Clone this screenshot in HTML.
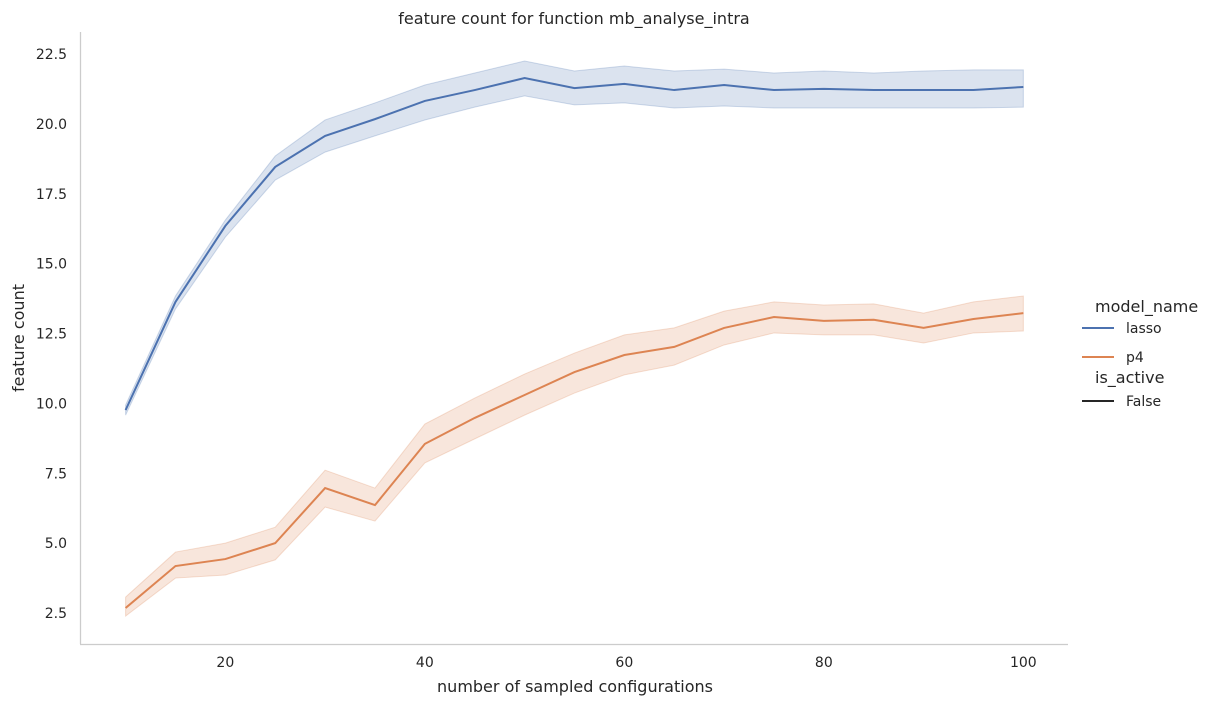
<!DOCTYPE html>
<html><head><meta charset="utf-8"><style>
body{margin:0;background:#fff;}
svg{display:block;font-family:"DejaVu Sans","Liberation Sans",sans-serif;fill:#262626;}
</style></head><body>
<svg id="chart" width="1215" height="706" viewBox="0 0 1215 706">
<text x="574" y="24" text-anchor="middle" font-size="16">feature count for function mb_analyse_intra</text>
<line x1="80.5" y1="32" x2="80.5" y2="644" stroke="#ccc" stroke-width="1.3"/>
<line x1="80" y1="644.5" x2="1068" y2="644.5" stroke="#ccc" stroke-width="1.3"/>
<g id="xticks"></g><g id="yticks"></g><g id="marks"></g>
<text x="575" y="692" text-anchor="middle" font-size="16">number of sampled configurations</text>
<text transform="translate(24,338) rotate(-90)" text-anchor="middle" font-size="16">feature count</text>
<g font-size="14">
<text x="1095" y="312" font-size="16">model_name</text>
<line x1="1082" y1="328" x2="1114" y2="328" stroke="#4c72b0" stroke-width="2"/>
<text x="1126" y="333">lasso</text>
<line x1="1082" y1="357" x2="1114" y2="357" stroke="#dd8452" stroke-width="2"/>
<text x="1126" y="362">p4</text>
<text x="1095" y="383" font-size="16">is_active</text>
<line x1="1082" y1="401" x2="1114" y2="401" stroke="#262626" stroke-width="2"/>
<text x="1126" y="406">False</text>
</g>
</svg>
<script>
const xs=[10,15,20,25,30,35,40,45,50,55,60,65,70,75,80,85,90,95,100];
const lassoMean=[9.76,13.63,16.35,18.46,19.57,20.17,20.82,21.21,21.64,21.28,21.43,21.21,21.39,21.21,21.25,21.21,21.21,21.21,21.32];
const lassoHi=[9.94,13.84,16.56,18.85,20.14,20.75,21.39,21.82,22.25,21.89,22.07,21.89,21.96,21.82,21.89,21.82,21.89,21.93,21.93];
const lassoLo=[9.58,13.38,15.95,17.99,18.99,19.57,20.14,20.60,21.0,20.68,20.75,20.57,20.64,20.57,20.57,20.57,20.57,20.57,20.6];
const p4Mean=[2.68,4.18,4.43,5.0,6.97,6.36,8.55,9.48,10.30,11.12,11.73,12.02,12.70,13.09,12.95,12.99,12.70,13.02,13.23];
const p4Hi=[3.07,4.68,5.0,5.57,7.61,6.97,9.26,10.19,11.05,11.80,12.45,12.70,13.30,13.63,13.52,13.56,13.23,13.63,13.84];
const p4Lo=[2.39,3.75,3.86,4.40,6.29,5.79,7.87,8.73,9.58,10.37,11.02,11.37,12.09,12.52,12.45,12.45,12.16,12.52,12.59];
const xTicks=[20,40,60,80,100];
const yTicks=[2.5,5.0,7.5,10.0,12.5,15.0,17.5,20.0,22.5];
const X=v=>125.6+(v-10)*9.975;
const Y=v=>613-(v-2.5)*27.95;
const NS="http://www.w3.org/2000/svg";
const xt=document.getElementById('xticks'),yt=document.getElementById('yticks'),mk=document.getElementById('marks');
xTicks.forEach(t=>{const e=document.createElementNS(NS,'text');


e.setAttribute('x',X(t));e.setAttribute('y',667);e.setAttribute('text-anchor','middle');e.setAttribute('font-size','14');e.textContent=t;xt.appendChild(e);});
yTicks.forEach(t=>{const e=document.createElementNS(NS,'text');


e.setAttribute('x',67);e.setAttribute('y',Y(t)+5);e.setAttribute('text-anchor','end');e.setAttribute('font-size','14');e.textContent=t.toFixed(1);yt.appendChild(e);});
function series(name,mean,hi,lo,color){
 const band=document.createElementNS(NS,'path');
 
 
 let d=xs.map((x,i)=>(i?'L':'M')+X(x)+','+Y(hi[i])).join('');
 for(let i=xs.length-1;i>=0;i--)d+='L'+X(xs[i])+','+Y(lo[i]);
 band.setAttribute('d',d+'Z');band.setAttribute('fill',color);band.setAttribute('fill-opacity','0.2');band.setAttribute('stroke',color);band.setAttribute('stroke-opacity','0.25');
 mk.appendChild(band);
 const ln=document.createElementNS(NS,'path');
 
 
 ln.setAttribute('d',xs.map((x,i)=>(i?'L':'M')+X(x)+','+Y(mean[i])).join(''));
 ln.setAttribute('fill','none');ln.setAttribute('stroke',color);ln.setAttribute('stroke-width','2');
 mk.appendChild(ln);
}
series('lasso',lassoMean,lassoHi,lassoLo,'#4c72b0');
series('p4',p4Mean,p4Hi,p4Lo,'#dd8452');
</script>
</body></html>
